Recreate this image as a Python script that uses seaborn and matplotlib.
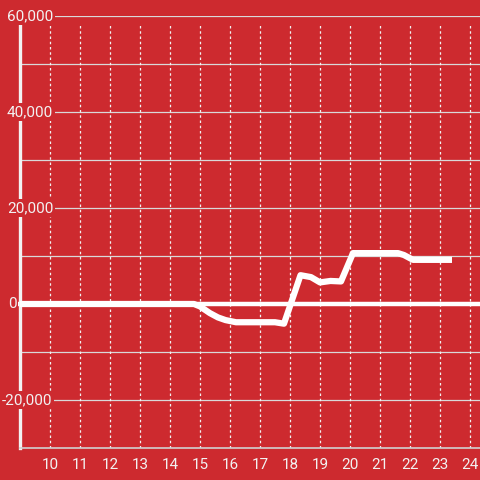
import matplotlib
matplotlib.use("Agg")
import matplotlib.pyplot as plt
import matplotlib.transforms as mtransforms
import seaborn as sns
import pandas as pd

# series
hours = [9.0, 14.8, 15.0, 15.33, 15.6, 15.85, 16.2, 17.5, 17.8, 18.35, 18.7,
         19.0, 19.35, 19.7, 20.1, 21.6, 21.8, 22.1, 23.4]
values = [0, 0, -500, -1900, -2800, -3350, -3800, -3800, -4100, 6000, 5600,
          4500, 4800, 4700, 10600, 10600, 10200, 9200, 9200]

x_ticks = list(range(10, 25))
y_ticks = [-20000, 0, 20000, 40000, 60000]
y_grid = [-20000, -10000, 10000, 20000, 30000, 40000, 50000, 60000]

bg = "#cd2a2f"
fg = "#f2f2f2"

sns.set_style("white")
plt.rcParams["font.family"] = ["Roboto", "DejaVu Sans"]

df = pd.DataFrame({"hour": hours, "value": values})

fig = plt.figure(figsize=(4.8, 4.8), dpi=100, facecolor=bg)
ax = fig.add_axes([20 / 480, 32 / 480, 460 / 480, 432 / 480], facecolor=bg)
ax.set_xlim(9, 24 + 1 / 3)
ax.set_ylim(-30000, 60000)

# grid
for g in y_grid:
    ax.axhline(g, color="#d9d9d9", lw=0.9, zorder=1)
for t in x_ticks:
    ax.plot([t, t], [-30000, 58500], color=fg, lw=0.9,
            dashes=(2, 2.2), zorder=1)
ax.plot([8.9, 24.5], [0, 0], color="white", lw=3.2, zorder=2,
        clip_on=False, solid_capstyle="butt")

sns.lineplot(data=df, x="hour", y="value", ax=ax, color="white", lw=4.5,
             zorder=3, solid_joinstyle="round", solid_capstyle="butt")

for s in ["top", "right"]:
    ax.spines[s].set_visible(False)
ax.spines["left"].set_color(fg)
ax.spines["left"].set_linewidth(2.4)
ax.spines["left"].set_zorder(2.5)
ax.spines["bottom"].set_color("#d0d0d0")
ax.spines["bottom"].set_linewidth(1.2)

ax.set_xticks(x_ticks)
ax.set_xticklabels([str(t) for t in x_ticks])
ax.tick_params(axis="x", length=0, pad=7, labelsize=11, labelcolor=fg)
ax.set_yticks([])
ax.set_xlabel("")
ax.set_ylabel("")

# y labels drawn over the axis with a red box
trans = mtransforms.blended_transform_factory(fig.transFigure, ax.transData)
for v in y_ticks:
    x0 = 7 / 480 if v >= 0 else 2 / 480
    if v == 0:
        x0 = 8 / 480
    ax.text(x0, v, f"{v:,}".replace("-", "-"), transform=trans, ha="left",
            va="center", fontsize=11, color=fg, zorder=5,
            bbox=dict(boxstyle="square,pad=0.12", fc=bg, ec="none"))

fig.savefig("out.png", dpi=100, facecolor=bg)
